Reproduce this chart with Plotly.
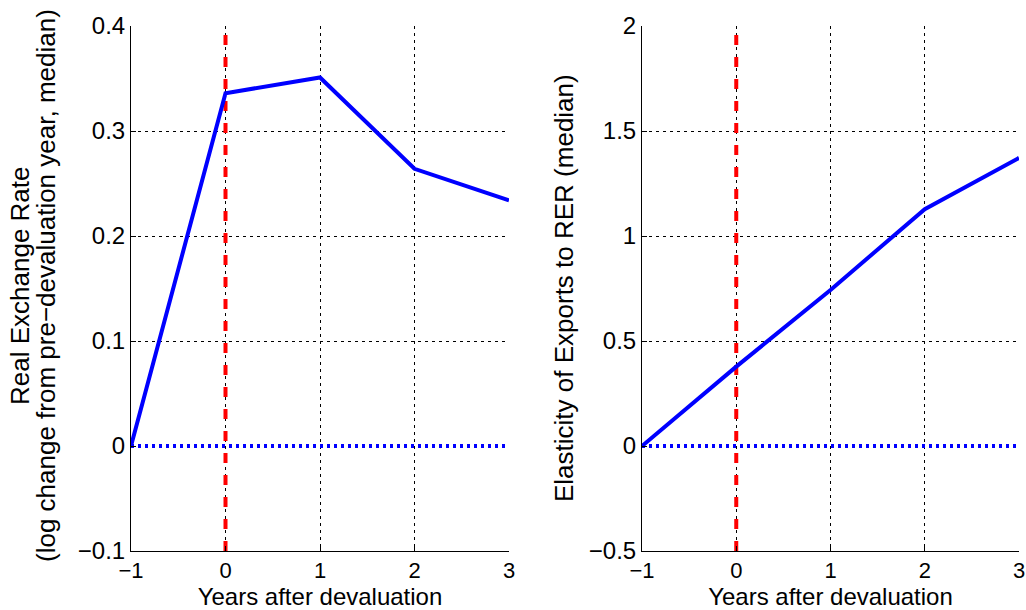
import plotly.graph_objects as go

years = [-1, 0, 1, 2, 3]
rer_change = [0.0, 0.336, 0.351, 0.264, 0.234]
export_elasticity = [0.0, 0.378, 0.743, 1.128, 1.372]

left_yrange = [-0.1, 0.4]
right_yrange = [-0.5, 2.0]
left_yticks = [-0.1, 0, 0.1, 0.2, 0.3, 0.4]
right_yticks = [-0.5, 0, 0.5, 1, 1.5, 2]
xticks = [-1, 0, 1, 2, 3]

x_title = "Years after devaluation"
left_title_lines = ["Real Exchange Rate", "(log change from pre\u2212devaluation year, median)"]
right_title = "Elasticity of Exports to RER (median)"

FONT = "Liberation Sans, Arial, Helvetica, sans-serif"
BLUE = "#0000ff"
RED = "#ff0000"

fig = go.Figure()

panels = [
    ("x", "y", rer_change, left_yrange),
    ("x2", "y2", export_elasticity, right_yrange),
]
for xa, ya, vals, yr in panels:
    fig.add_trace(go.Scatter(x=[years[0], years[-1]], y=[0, 0], mode="lines",
                             line=dict(color=BLUE, width=4, dash="3px,4px"),
                             xaxis=xa, yaxis=ya, showlegend=False, hoverinfo="skip"))
    fig.add_trace(go.Scatter(x=[0, 0], y=yr, mode="lines",
                             line=dict(color=RED, width=4, dash="10px,12px"),
                             xaxis=xa, yaxis=ya, showlegend=False, hoverinfo="skip"))
    fig.add_trace(go.Scatter(x=years, y=vals, mode="lines",
                             line=dict(color=BLUE, width=4),
                             xaxis=xa, yaxis=ya, showlegend=False))

W, H = 1026, 610
y_dom = [(H - 551) / H, (H - 26) / H]

axis_common = dict(
    showline=True, linecolor="black", linewidth=1, mirror=False,
    showgrid=True, gridcolor="black", gridwidth=1, griddash="3px,4px",
    ticks="inside", ticklen=5, tickcolor="black",
    tickfont=dict(family=FONT, size=24, color="black"),
    zeroline=False, automargin=False,
)
x_common = dict(axis_common, tickfont=dict(family=FONT, size=22, color="black"))

fig.update_layout(
    width=W, height=H,
    margin=dict(l=0, r=0, t=0, b=0),
    paper_bgcolor="white", plot_bgcolor="white",
    font=dict(family=FONT, color="black"),
    xaxis=dict(domain=[131 / W, 509 / W], range=[-1, 3], tickvals=xticks,
               title=dict(text=x_title, font=dict(size=24), standoff=4),
               anchor="y", **x_common),
    yaxis=dict(domain=y_dom, range=left_yrange, tickvals=left_yticks,
               anchor="x", **axis_common),
    xaxis2=dict(domain=[642 / W, 1019 / W], range=[-1, 3], tickvals=xticks,
                title=dict(text=x_title, font=dict(size=24), standoff=4),
                anchor="y2", **x_common),
    yaxis2=dict(domain=y_dom, range=right_yrange, tickvals=right_yticks,
                anchor="x2", **axis_common),
)

fig.add_annotation(text=left_title_lines[0], xref="paper", yref="paper",
                   x=20 / W, y=(H - 286) / H, textangle=-90, showarrow=False,
                   xanchor="center", yanchor="middle", font=dict(size=26, family=FONT))
fig.add_annotation(text=left_title_lines[1], xref="paper", yref="paper",
                   x=46 / W, y=(H - 286) / H, textangle=-90, showarrow=False,
                   xanchor="center", yanchor="middle", font=dict(size=26, family=FONT))
fig.add_annotation(text=right_title, xref="paper", yref="paper",
                   x=564 / W, y=(H - 288) / H, textangle=-90, showarrow=False,
                   xanchor="center", yanchor="middle", font=dict(size=26, family=FONT))

fig.write_html("out.html", config={"displayModeBar": False},
               post_script="document.body.style.margin='0';")
